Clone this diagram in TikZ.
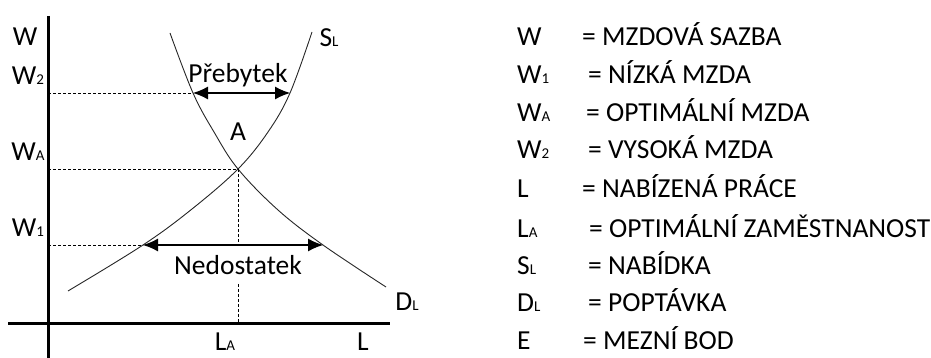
\documentclass[tikz,border=0pt]{standalone}
\usepackage{fontspec}
\setmainfont{Carlito}
\usetikzlibrary{arrows.meta}

\newcommand{\lsub}[1]{{\fontsize{15}{15}\selectfont #1}}

\tikzset{
  lbl/.style={font=\fontsize{27.5}{31}\selectfont, inner sep=0pt},
  keytxt/.style={lbl, anchor=base west},
  axis/.style={line width=3pt},
  curve/.style={line width=0.9pt, black!85},
  guide/.style={line width=0.8pt, dash pattern=on 3pt off 2pt},
  gap/.style={line width=1.1pt, {Latex[length=15pt,width=13pt]}-{Latex[length=15pt,width=13pt]}}
}

\begin{document}
\begin{tikzpicture}[x=1pt,y=-1pt]
        \useasboundingbox (0,0) rectangle (931,358);
        % axes
        \coordinate (ytop) at (48,16);
        \coordinate (ybot) at (48,358);
        \coordinate (xleft) at (8,323);
        \coordinate (xright) at (390,323);
        \draw [axis] (ytop) -- (ybot);
        \draw [axis] (xleft) -- (xright);
        % key points
        \coordinate (A) at (238,169);
        \coordinate (d2) at (193,93);
        \coordinate (s2) at (290,93);
        \coordinate (s1) at (143,245);
        \coordinate (d1) at (323,245);
        \coordinate (m1) at (238,245);
        \coordinate (w2) at (48,93);
        \coordinate (wa) at (48,169);
        \coordinate (w1) at (48,245);
        \coordinate (la) at (238,323);
        % demand and supply
        \draw [curve] plot [smooth, tension=0.6] coordinates {(170,33) (193,93) (214,132) (238,169) (278,210) (323,245) (386,287)};
        \draw [curve] plot [smooth, tension=0.6] coordinates {(68,291) (143,245) (192,209) (238,169) (268,132) (290,93) (312,32)};
        % guides
        \draw [guide] (w2) -- (d2);
        \draw [guide] (wa) -- (A);
        \draw [guide] (w1) -- (s1);
        \draw [guide] (A) -- (m1);
        % surplus and shortage
        \draw [gap] (d2) -- (s2);
        \draw [gap] (s1) -- (d1);
        \node [lbl] (preb) at (238,75) {Přebytek};
        \node [lbl, inner ysep=9pt] (ned) at (238,265) {Nedostatek};
        \draw [guide] (ned.south) -- (la);
        \node [lbl] (eq) at (238,132) {A};
        % axis labels
        \node [lbl] (lw) at (25,37) {W};
        \node [lbl] (lw2) at (28,76) {W\lsub{2}};
        \node [lbl] (lwa) at (28,152) {W\lsub{A}};
        \node [lbl] (lw1) at (28,228) {W\lsub{1}};
        \node [lbl] (lsl) at (329,38) {S\lsub{L}};
        \node [lbl] (ldl) at (407,302) {D\lsub{L}};
        \node [lbl] (lla) at (225,342) {L\lsub{A}};
        \node [lbl] (ll) at (363,342) {L};
        % legend
        \node [keytxt] (k1) at (517,46) {W};
        \node [keytxt] (t1) at (582,46) {= MZDOVÁ SAZBA};
        \node [keytxt] (k2) at (517,84) {W\lsub{1}};
        \node [keytxt] (t2) at (588,84) {= NÍZKÁ MZDA};
        \node [keytxt] (k3) at (517,122) {W\lsub{A}};
        \node [keytxt] (t3) at (586,122) {= OPTIMÁLNÍ MZDA};
        \node [keytxt] (k4) at (517,159) {W\lsub{2}};
        \node [keytxt] (t4) at (588,159) {= VYSOKÁ MZDA};
        \node [keytxt] (k5) at (517,197) {L};
        \node [keytxt] (t5) at (582,197) {= NABÍZENÁ PRÁCE};
        \node [keytxt] (k6) at (517,237) {L\lsub{A}};
        \node [keytxt] (t6) at (589,237) {= OPTIMÁLNÍ ZAMĚSTNANOST};
        \node [keytxt] (k7) at (517,274) {S\lsub{L}};
        \node [keytxt] (t7) at (588,274) {= NABÍDKA};
        \node [keytxt] (k8) at (517,311) {D\lsub{L}};
        \node [keytxt] (t8) at (588,311) {= POPTÁVKA};
        \node [keytxt] (k9) at (517,349) {E};
        \node [keytxt] (t9) at (583,349) {= MEZNÍ BOD};
\end{tikzpicture}
\end{document}
